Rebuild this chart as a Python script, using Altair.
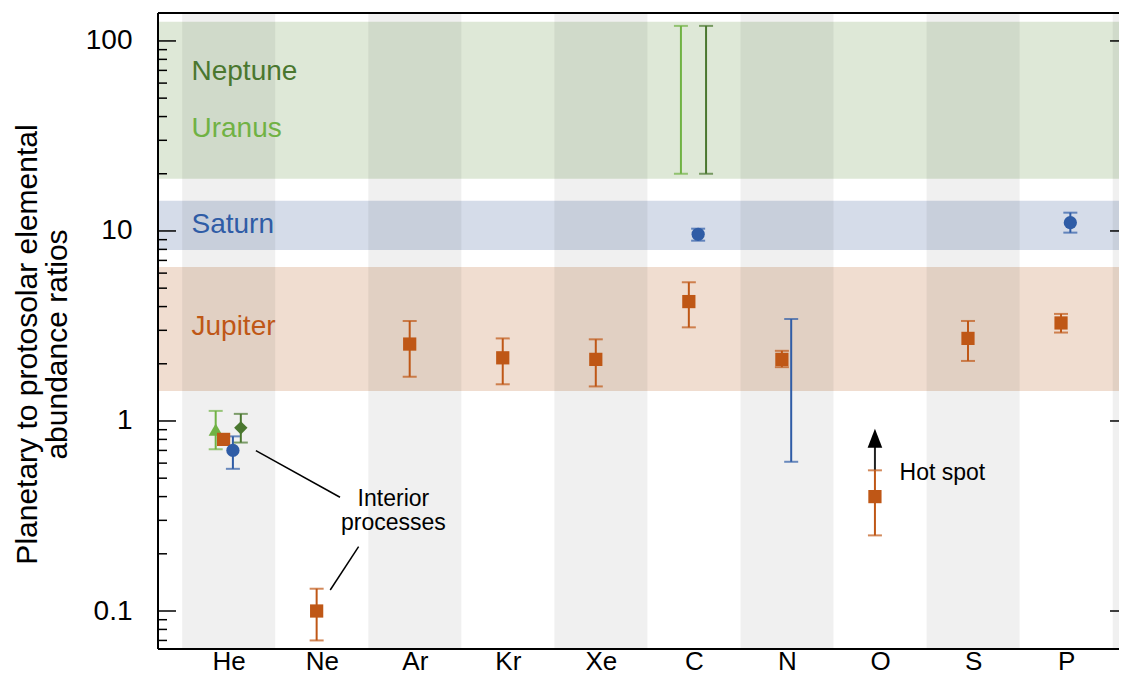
import json
import altair as alt
import pandas as pd

# ---------------- data ----------------
elements = ["He", "Ne", "Ar", "Kr", "Xe", "C", "N", "O", "S", "P"]

jup_el = ["He", "Ne", "Ar", "Kr", "Xe", "C", "N", "O", "S", "P"]
jup_val = [0.80, 0.10, 2.54, 2.15, 2.11, 4.25, 2.11, 0.40, 2.72, 3.28]
jup_lo = [None, 0.070, 1.71, 1.56, 1.52, 3.11, 1.92, 0.25, 2.07, 2.92]
jup_hi = [None, 0.131, 3.36, 2.72, 2.69, 5.37, 2.34, 0.55, 3.36, 3.66]

sat_el = ["He", "C", "N", "P"]
sat_val = [0.70, 9.61, None, 11.06]
sat_lo = [0.56, 8.89, 0.61, 9.80]
sat_hi = [0.83, 10.28, 3.44, 12.48]

ura_el = ["He", "C"]
ura_val = [0.90, None]
ura_lo = [0.71, 20.0]
ura_hi = [1.13, 120.0]

nep_el = ["He", "C"]
nep_val = [0.92, None]
nep_lo = [0.77, 20.0]
nep_hi = [1.09, 120.0]

band_names = ["Uranus/Neptune", "Saturn", "Jupiter"]
band_lo = [18.8, 7.94, 1.44]
band_hi = [126.0, 14.4, 6.47]

band_labels = ["Neptune", "Uranus", "Saturn", "Jupiter"]
band_label_y = [68.7, 34.5, 10.7, 3.12]

stripe_index = [0, 2, 4, 6, 8, 10]

major_ticks = [0.1, 1, 10, 100]
minor_ticks = [0.07, 0.08, 0.09,
               0.2, 0.3, 0.4, 0.5, 0.6, 0.7, 0.8, 0.9,
               2, 3, 4, 5, 6, 7, 8, 9,
               20, 30, 40, 50, 60, 70, 80, 90]

# annotation geometry (data coordinates)
interior_lines_x = [0.292, 1.196]
interior_lines_y = [0.698, 0.397]
interior_lines2_x = [1.396, 1.091]
interior_lines2_y = [0.218, 0.129]
interior_text = ["Interior", "processes"]
interior_text_x = 1.77
interior_text_y = [0.357, 0.267]
hot_text = "Hot spot"
hot_text_x = 7.21
hot_text_y = 0.489
arrow_lo, arrow_hi, arrow_head = 0.55, 0.74, 0.81

# ---------------- styles ----------------
FONT = "Liberation Sans"
series_names = ["Uranus", "Jupiter", "Saturn", "Neptune"]
series_colors = ["#70b244", "#bf5716", "#2f5ca6", "#4a772f"]
series_shapes = ["triangle-up", "square", "circle", "diamond"]
series_sizes = [200, 175, 175, 180]
series_offset = {"Uranus": -0.14, "Jupiter": -0.055, "Saturn": 0.045, "Neptune": 0.13}
band_colors = ["#dee8d7", "#d5dce9", "#f0ddd0"]
band_label_colors = ["#4a772f", "#70b244", "#2f5ca6", "#bf5716"]

W, H = 961, 636
XDOM = [-0.76, 9.568]
YDOM = [0.0631, 140.3]

# ---------------- frames ----------------
rows = []
for name, els, vals, los, his in [
    ("Uranus", ura_el, ura_val, ura_lo, ura_hi),
    ("Jupiter", jup_el, jup_val, jup_lo, jup_hi),
    ("Saturn", sat_el, sat_val, sat_lo, sat_hi),
    ("Neptune", nep_el, nep_val, nep_lo, nep_hi),
]:
    for e, v, lo, hi in zip(els, vals, los, his):
        rows.append({"series": name, "x": elements.index(e) + series_offset[name],
                     "y": v, "lo": lo, "hi": hi})
pts = pd.DataFrame(rows)
err = pts.dropna(subset=["lo"])
caps = pd.concat([err.assign(y=err["lo"]), err.assign(y=err["hi"])])

bands = pd.DataFrame({"name": band_names, "y": band_lo, "y2": band_hi, "color": band_colors})
stripes = pd.DataFrame({"x": [i - 0.5 for i in stripe_index], "x2": [i + 0.5 for i in stripe_index]})
blabels = pd.DataFrame({"text": band_labels, "y": band_label_y, "x": [-0.4] * 4,
                        "color": band_label_colors})

xscale = alt.Scale(domain=XDOM, nice=False, zero=False)
yscale = alt.Scale(type="log", domain=YDOM, nice=False)
label_expr = json.dumps(elements) + "[datum.value]"
xaxis = alt.Axis(values=list(range(len(elements))), labelExpr=label_expr, title=None,
                 domain=False, ticks=False, grid=False, labelFont=FONT, labelFontSize=26,
                 labelColor="black", labelBaseline="alphabetic", labelPadding=20,
                 labelFlush=False)
yaxis = alt.Axis(values=major_ticks, format="~g", domain=False, ticks=False, grid=False,
                 title=["Planetary to protosolar elemental", "abundance ratios"],
                 titleFont=FONT, titleFontSize=30, titleFontWeight="normal", titleColor="black",
                 titleX=-122, titleY=331, titleAngle=270, titleAlign="center",
                 titleBaseline="alphabetic", titleLineHeight=30,
                 labelFont=FONT, labelFontSize=28, labelColor="black", labelPadding=26,
                 labelBaseline="middle")


def X(f="x"):
    return alt.X(f"{f}:Q", scale=xscale, axis=xaxis)


def Y(f="y"):
    return alt.Y(f"{f}:Q", scale=yscale, axis=yaxis)


color_enc = alt.Color("series:N", scale=alt.Scale(domain=series_names, range=series_colors),
                      legend=None)

band_layer = alt.Chart(bands).mark_rect().encode(
    x=alt.value(0), x2=alt.value(W), y=Y("y"), y2="y2:Q",
    color=alt.Color("color:N", scale=None))

stripe_layer = alt.Chart(stripes).mark_rect(color="black", opacity=0.06, clip=True).encode(
    x=X("x"), x2="x2:Q", y=alt.value(0), y2=alt.value(H))

blabel_layer = alt.Chart(blabels).mark_text(font=FONT, fontSize=28, align="left",
                                            baseline="middle").encode(
    x=X("x"), y=Y("y"), text="text:N", color=alt.Color("color:N", scale=None))

lines_df = pd.DataFrame({"x": [interior_lines_x[0], interior_lines2_x[0]],
                         "x2": [interior_lines_x[1], interior_lines2_x[1]],
                         "y": [interior_lines_y[0], interior_lines2_y[0]],
                         "y2": [interior_lines_y[1], interior_lines2_y[1]]})
lines_layer = alt.Chart(lines_df).mark_rule(color="black", strokeWidth=1.5).encode(
    x=X("x"), x2="x2:Q", y=Y("y"), y2="y2:Q")

int_text_df = pd.DataFrame({"text": interior_text, "x": [interior_text_x] * 2, "y": interior_text_y})
int_text_layer = alt.Chart(int_text_df).mark_text(font=FONT, fontSize=23, align="center",
                                                  baseline="alphabetic", color="black").encode(
    x=X("x"), y=Y("y"), text="text:N")

xo = elements.index("O") + series_offset["Jupiter"]
arrow_df = pd.DataFrame({"x": [xo], "y": [arrow_lo], "y2": [arrow_hi], "yh": [arrow_head]})
arrow_layer = alt.Chart(arrow_df).mark_rule(color="#222222", strokeWidth=2).encode(
    x=X("x"), y=Y("y"), y2="y2:Q")
head_layer = alt.Chart(arrow_df).mark_point(shape="M0,-1L-0.77,1L0.77,1Z", filled=True,
                                            color="black", opacity=1, size=361).encode(
    x=X("x"), y=Y("yh"))
hot_df = pd.DataFrame({"text": [hot_text], "x": [hot_text_x], "y": [hot_text_y]})
hot_layer = alt.Chart(hot_df).mark_text(font=FONT, fontSize=23, align="left",
                                        baseline="alphabetic", color="black").encode(
    x=X("x"), y=Y("y"), text="text:N")

err_layer = alt.Chart(err).mark_rule(strokeWidth=2).encode(
    x=X("x"), y=Y("lo"), y2="hi:Q", color=color_enc)
cap_layer = alt.Chart(caps).mark_tick(orient="horizontal", size=14, thickness=2).encode(
    x=X("x"), y=Y("y"), color=color_enc)

marker_layers = []
for name, col, shp, sz in zip(series_names, series_colors, series_shapes, series_sizes):
    d = pts[(pts["series"] == name)].dropna(subset=["y"])
    marker_layers.append(
        alt.Chart(d).mark_point(shape=shp, filled=True, color=col, opacity=1, size=sz).encode(
            x=X("x"), y=Y("y")))

maj_df = pd.DataFrame({"y": major_ticks})
min_df = pd.DataFrame({"y": minor_ticks})
frame_df = pd.DataFrame({"edge": ["frame"]})
tick_layers = [
    alt.Chart(maj_df).mark_rule(color="black", strokeWidth=1.5).encode(
        x=alt.value(0), x2=alt.value(18), y=Y("y")),
    alt.Chart(min_df).mark_rule(color="black", strokeWidth=1.5).encode(
        x=alt.value(0), x2=alt.value(9), y=Y("y")),
    # right-hand ticks: only their inner part is inside the visible frame
    alt.Chart(maj_df).mark_rule(color="black", strokeWidth=1.5).encode(
        x=alt.value(W - 9), x2=alt.value(W), y=Y("y")),
    # frame (left, top, bottom)
    alt.Chart(frame_df).mark_rule(color="black", strokeWidth=2).encode(
        x=alt.value(0), y=alt.value(0), y2=alt.value(H)),
    alt.Chart(frame_df).mark_rule(color="black", strokeWidth=2).encode(
        x=alt.value(0), x2=alt.value(W), y=alt.value(0)),
    alt.Chart(frame_df).mark_rule(color="black", strokeWidth=2).encode(
        x=alt.value(0), x2=alt.value(W), y=alt.value(H)),
]

chart = alt.layer(
    band_layer, stripe_layer, blabel_layer, lines_layer, int_text_layer,
    arrow_layer, head_layer, hot_layer, err_layer, cap_layer, *marker_layers, *tick_layers
).properties(
    width=W, height=H,
    padding={"left": 150, "top": 5, "right": 0, "bottom": 26},
    autosize=alt.AutoSizeParams(type="none"),
).configure_view(stroke="transparent", strokeWidth=0).configure(background="white")

chart.save("out.html", embed_options={"renderer": "svg", "actions": False})
